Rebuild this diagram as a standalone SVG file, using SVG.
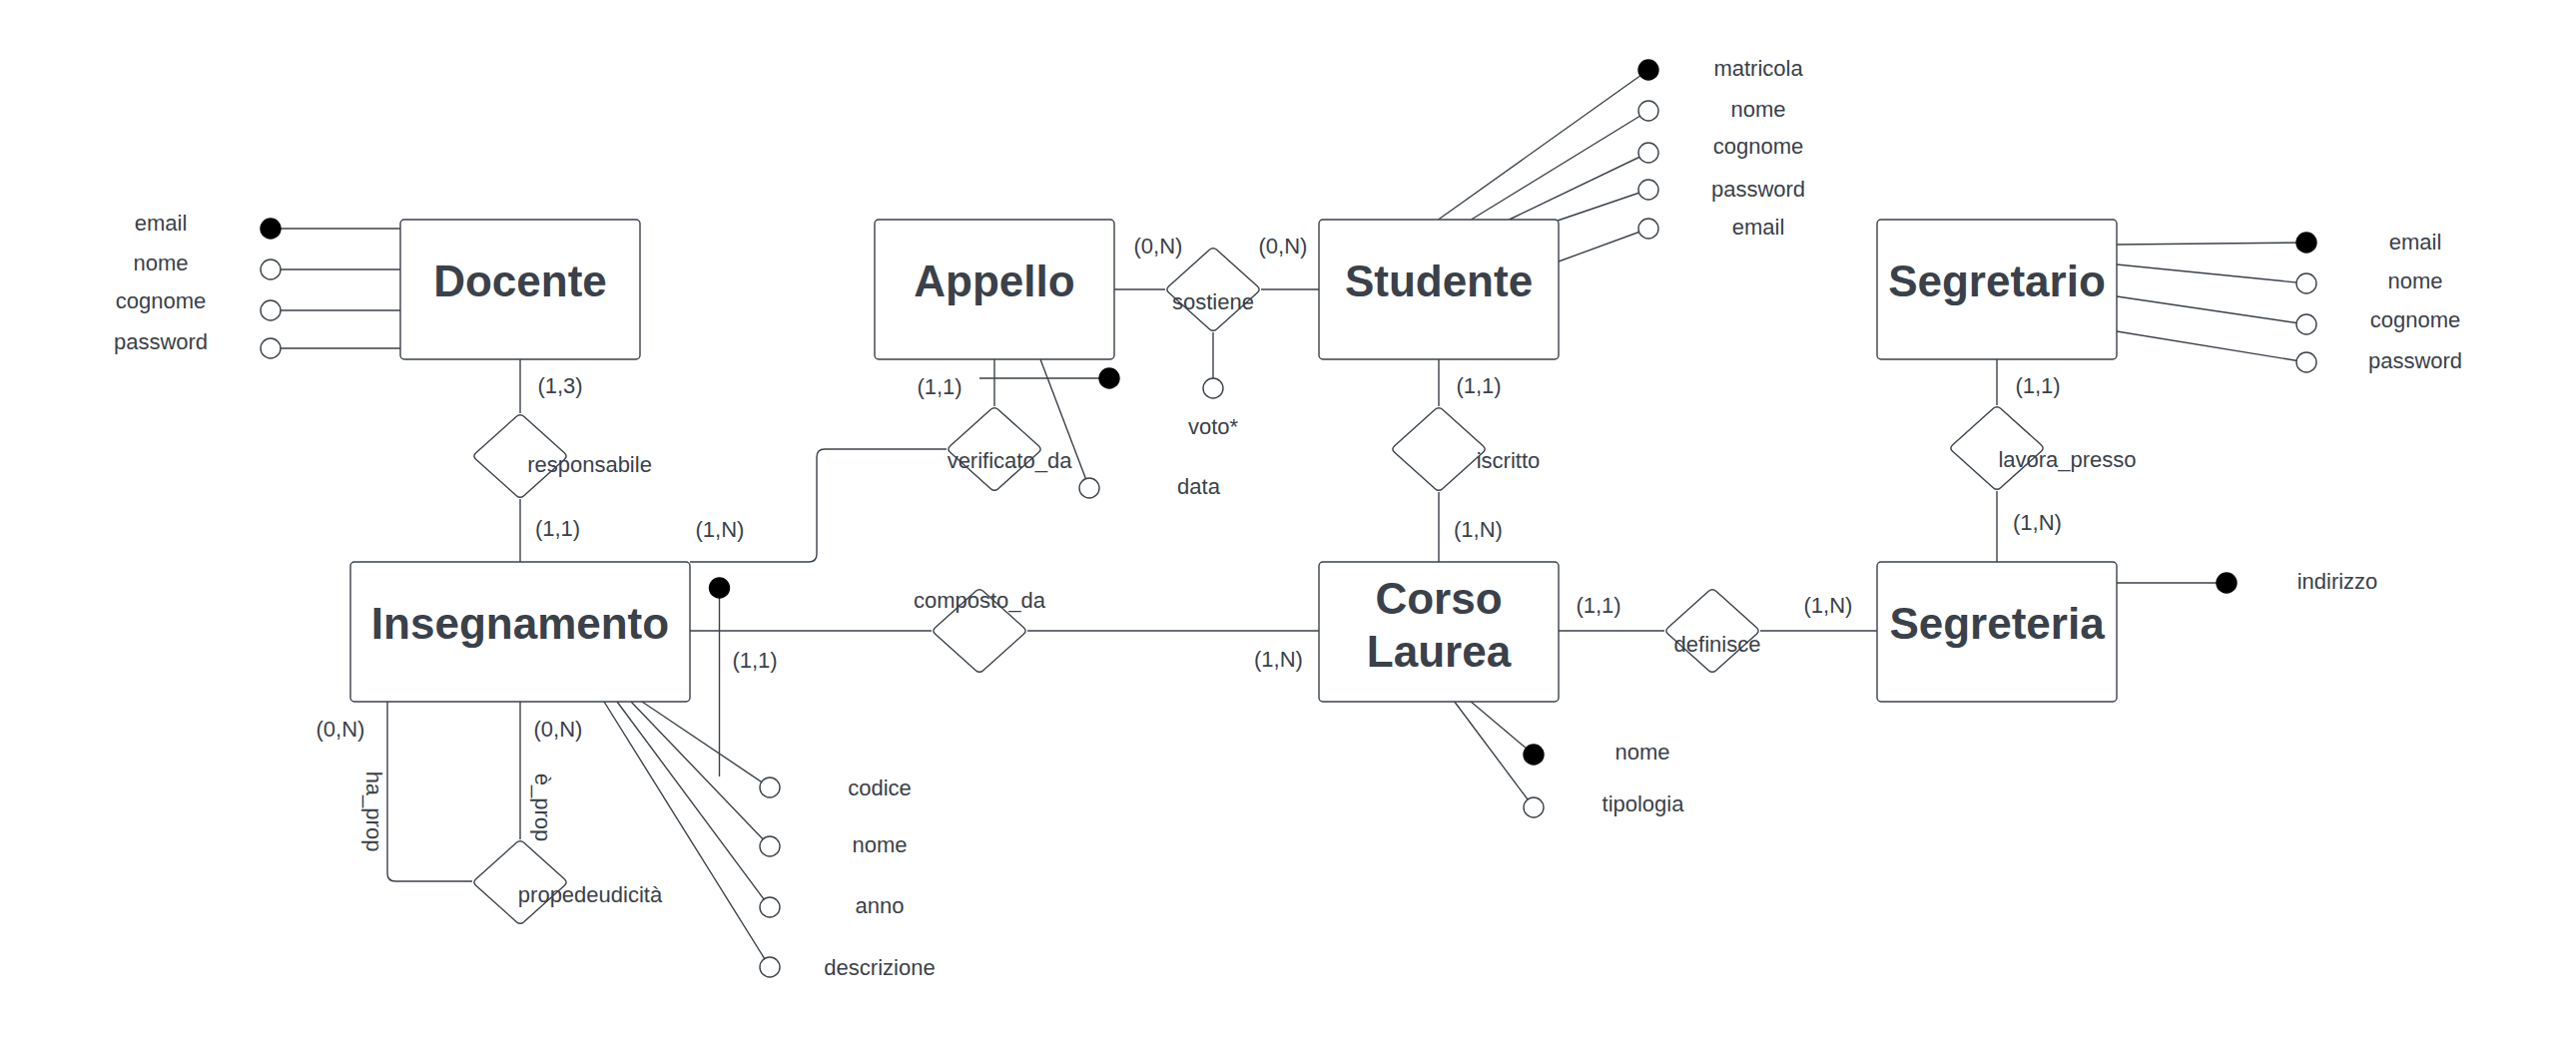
<svg xmlns="http://www.w3.org/2000/svg" width="2580" height="1039" viewBox="0 0 2580 1039">
<style>
.box{fill:#fff;stroke:#3a414a;stroke-width:1.4}
.dia{fill:#fff;stroke:#3a414a;stroke-width:1.4}
.ln{fill:none;stroke:#3a414a;stroke-width:1.4}
.title{font-family:"Liberation Sans",Arial,sans-serif;font-size:44px;font-weight:bold;fill:#3a414a;text-anchor:middle}
.lbl{font-family:"Liberation Sans",Arial,sans-serif;font-size:22px;fill:#3a414a;text-anchor:middle}
.key{fill:#000;stroke:#000;stroke-width:1.4}
.opt{fill:#fff;stroke:#3a414a;stroke-width:1.4}
</style>
<defs>
<path id="dia" class="dia" d="M-3.7,-39.7 Q0,-43 3.7,-39.7 L44.3,-3.3 Q48,0 44.3,3.3 L3.7,39.7 Q0,43 -3.7,39.7 L-44.3,3.3 Q-48,0 -44.3,-3.3 Z"/>
</defs>
<rect width="2580" height="1039" fill="#fff"/>

<g id="connectors">
  <!-- relationships -->
  <line class="ln" x1="521" y1="360" x2="521" y2="414"/>
  <line class="ln" x1="521" y1="500" x2="521" y2="563"/>
  <line class="ln" x1="1116" y1="290" x2="1167" y2="290"/>
  <line class="ln" x1="1263" y1="290" x2="1321" y2="290"/>
  <line class="ln" x1="1215" y1="333" x2="1215" y2="389"/>
  <line class="ln" x1="996" y1="360" x2="996" y2="407"/>
  <path class="ln" d="M948,450 H826 Q818,450 818,458 V555 Q818,563 810,563 H691"/>
  <line class="ln" x1="1441" y1="360" x2="1441" y2="407"/>
  <line class="ln" x1="1441" y1="493" x2="1441" y2="563"/>
  <line class="ln" x1="2000" y1="360" x2="2000" y2="406"/>
  <line class="ln" x1="2000" y1="492" x2="2000" y2="563"/>
  <line class="ln" x1="691" y1="632" x2="933" y2="632"/>
  <line class="ln" x1="1029" y1="632" x2="1321" y2="632"/>
  <line class="ln" x1="1561" y1="632" x2="1667" y2="632"/>
  <line class="ln" x1="1763" y1="632" x2="1880" y2="632"/>
  <path class="ln" d="M388,703 V875 Q388,883 396,883 H473"/>
  <line class="ln" x1="521" y1="703" x2="521" y2="841"/>
  <!-- Docente attributes -->
  <line class="ln" x1="271" y1="229" x2="401" y2="229"/>
  <line class="ln" x1="271" y1="270" x2="401" y2="270"/>
  <line class="ln" x1="271" y1="311" x2="401" y2="311"/>
  <line class="ln" x1="271" y1="349" x2="401" y2="349"/>
  <!-- Studente attributes -->
  <line class="ln" x1="1440.5" y1="220" x2="1651" y2="70"/>
  <line class="ln" x1="1473.5" y1="220" x2="1651" y2="111"/>
  <line class="ln" x1="1511.5" y1="220" x2="1651" y2="153"/>
  <line class="ln" x1="1560" y1="221" x2="1651" y2="190"/>
  <line class="ln" x1="1561" y1="262" x2="1651" y2="229"/>
  <!-- Segretario attributes -->
  <line class="ln" x1="2120" y1="245" x2="2310" y2="243"/>
  <line class="ln" x1="2120" y1="265" x2="2310" y2="284"/>
  <line class="ln" x1="2120" y1="297" x2="2310" y2="325"/>
  <line class="ln" x1="2120" y1="332" x2="2310" y2="363"/>
  <!-- Segreteria attribute -->
  <line class="ln" x1="2120" y1="584" x2="2230" y2="584"/>
  <!-- Appello attributes -->
  <line class="ln" x1="981" y1="379" x2="1111" y2="379"/>
  <line class="ln" x1="1042" y1="360" x2="1091" y2="489"/>
  <!-- Insegnamento attributes -->
  <line class="ln" x1="720.5" y1="589" x2="720.5" y2="778"/>
  <line class="ln" x1="643" y1="703" x2="771" y2="789"/>
  <line class="ln" x1="632" y1="703" x2="771" y2="848"/>
  <line class="ln" x1="618" y1="703" x2="771" y2="909"/>
  <line class="ln" x1="605" y1="703" x2="771" y2="969"/>
  <!-- Corso Laurea attributes -->
  <line class="ln" x1="1472" y1="702" x2="1536" y2="756"/>
  <line class="ln" x1="1456" y1="702" x2="1536" y2="809"/>
</g>

<!-- Entities -->
<g id="docente">
  <rect class="box" x="401" y="220" width="240" height="140" rx="4"/>
  <text class="title" x="521" y="297">Docente</text>
</g>
<g id="appello">
  <rect class="box" x="876" y="220" width="240" height="140" rx="4"/>
  <text class="title" x="996" y="297">Appello</text>
</g>
<g id="studente">
  <rect class="box" x="1321" y="220" width="240" height="140" rx="4"/>
  <text class="title" x="1441" y="297">Studente</text>
</g>
<g id="segretario">
  <rect class="box" x="1880" y="220" width="240" height="140" rx="4"/>
  <text class="title" x="2000" y="297">Segretario</text>
</g>
<g id="insegnamento">
  <rect class="box" x="351" y="563" width="340" height="140" rx="4"/>
  <text class="title" x="521" y="640">Insegnamento</text>
</g>
<g id="corso-laurea">
  <rect class="box" x="1321" y="563" width="240" height="140" rx="4"/>
  <text class="title" x="1441" y="615">Corso</text>
  <text class="title" x="1441" y="668">Laurea</text>
</g>
<g id="segreteria">
  <rect class="box" x="1880" y="563" width="240" height="140" rx="4"/>
  <text class="title" x="2000" y="640">Segreteria</text>
</g>

<!-- Relationships -->
<g id="responsabile">
  <use href="#dia" x="521" y="457"/>
  <text class="lbl" x="590.5" y="472.5">responsabile</text>
  <text class="lbl" x="561" y="393.5">(1,3)</text>
  <text class="lbl" x="558.5" y="536.5">(1,1)</text>
</g>
<g id="verificato_da">
  <use href="#dia" x="996" y="450"/>
  <text class="lbl" x="1011" y="468.5">verificato_da</text>
  <text class="lbl" x="941" y="394.5">(1,1)</text>
  <text class="lbl" x="721" y="537.5">(1,N)</text>
</g>
<g id="sostiene">
  <use href="#dia" x="1215" y="290"/>
  <text class="lbl" x="1215" y="310">sostiene</text>
  <text class="lbl" x="1160" y="253.5">(0,N)</text>
  <text class="lbl" x="1285" y="253.5">(0,N)</text>
</g>
<g id="iscritto">
  <use href="#dia" x="1441" y="450"/>
  <text class="lbl" x="1510.5" y="469">iscritto</text>
  <text class="lbl" x="1481" y="394">(1,1)</text>
  <text class="lbl" x="1480.5" y="537.5">(1,N)</text>
</g>
<g id="lavora_presso">
  <use href="#dia" x="2000" y="449"/>
  <text class="lbl" x="2070.5" y="467.5">lavora_presso</text>
  <text class="lbl" x="2041" y="394">(1,1)</text>
  <text class="lbl" x="2040.5" y="530.5">(1,N)</text>
</g>
<g id="composto_da">
  <use href="#dia" x="981" y="632"/>
  <text class="lbl" x="981" y="608.5">composto_da</text>
  <text class="lbl" x="756" y="668.5">(1,1)</text>
  <text class="lbl" x="1280.5" y="668">(1,N)</text>
</g>
<g id="definisce">
  <use href="#dia" x="1715" y="632"/>
  <text class="lbl" x="1720" y="653">definisce</text>
  <text class="lbl" x="1601" y="614">(1,1)</text>
  <text class="lbl" x="1831" y="614">(1,N)</text>
</g>
<g id="propedeudicita">
  <use href="#dia" x="521" y="884"/>
  <text class="lbl" x="591" y="903.5">propedeudicità</text>
  <text class="lbl" x="341" y="737.5">(0,N)</text>
  <text class="lbl" x="559" y="737.5">(0,N)</text>
  <text class="lbl" transform="translate(366.5,813) rotate(90)">ha_prop</text>
  <text class="lbl" transform="translate(536,809) rotate(90)">è_prop</text>
</g>

<!-- Attributes -->
<g id="docente-attrs">
  <circle class="key" cx="271" cy="229" r="10"/>
  <circle class="opt" cx="271" cy="270" r="10"/>
  <circle class="opt" cx="271" cy="311" r="10"/>
  <circle class="opt" cx="271" cy="349" r="10"/>
  <text class="lbl" x="161" y="230.5">email</text>
  <text class="lbl" x="161" y="270.5">nome</text>
  <text class="lbl" x="161" y="308.5">cognome</text>
  <text class="lbl" x="161" y="349.5">password</text>
</g>
<g id="studente-attrs">
  <circle class="key" cx="1651" cy="70" r="10"/>
  <circle class="opt" cx="1651" cy="111" r="10"/>
  <circle class="opt" cx="1651" cy="153" r="10"/>
  <circle class="opt" cx="1651" cy="190" r="10"/>
  <circle class="opt" cx="1651" cy="229" r="10"/>
  <text class="lbl" x="1761" y="76">matricola</text>
  <text class="lbl" x="1761" y="116.5">nome</text>
  <text class="lbl" x="1761" y="154">cognome</text>
  <text class="lbl" x="1761" y="196.5">password</text>
  <text class="lbl" x="1761" y="235">email</text>
</g>
<g id="segretario-attrs">
  <circle class="key" cx="2310" cy="243" r="10"/>
  <circle class="opt" cx="2310" cy="284" r="10"/>
  <circle class="opt" cx="2310" cy="325" r="10"/>
  <circle class="opt" cx="2310" cy="363" r="10"/>
  <text class="lbl" x="2419" y="249.5">email</text>
  <text class="lbl" x="2419" y="289">nome</text>
  <text class="lbl" x="2419" y="327.5">cognome</text>
  <text class="lbl" x="2419" y="368.5">password</text>
</g>
<g id="segreteria-attrs">
  <circle class="key" cx="2230" cy="584" r="10"/>
  <text class="lbl" x="2341" y="590">indirizzo</text>
</g>
<g id="appello-attrs">
  <circle class="key" cx="1111" cy="379" r="10"/>
  <circle class="opt" cx="1091" cy="489" r="10"/>
  <text class="lbl" x="1200.5" y="495">data</text>
</g>
<g id="sostiene-attrs">
  <circle class="opt" cx="1215" cy="389" r="10"/>
  <text class="lbl" x="1215" y="435">voto*</text>
</g>
<g id="insegnamento-attrs">
  <circle class="key" cx="720.5" cy="589" r="10"/>
  <circle class="opt" cx="771" cy="789" r="10"/>
  <circle class="opt" cx="771" cy="848" r="10"/>
  <circle class="opt" cx="771" cy="909" r="10"/>
  <circle class="opt" cx="771" cy="969" r="10"/>
  <text class="lbl" x="881" y="797">codice</text>
  <text class="lbl" x="881" y="854">nome</text>
  <text class="lbl" x="881" y="915">anno</text>
  <text class="lbl" x="881" y="977">descrizione</text>
</g>
<g id="corso-laurea-attrs">
  <circle class="key" cx="1536" cy="756" r="10"/>
  <circle class="opt" cx="1536" cy="809" r="10"/>
  <text class="lbl" x="1645" y="761">nome</text>
  <text class="lbl" x="1645.5" y="812.5">tipologia</text>
</g>
</svg>
